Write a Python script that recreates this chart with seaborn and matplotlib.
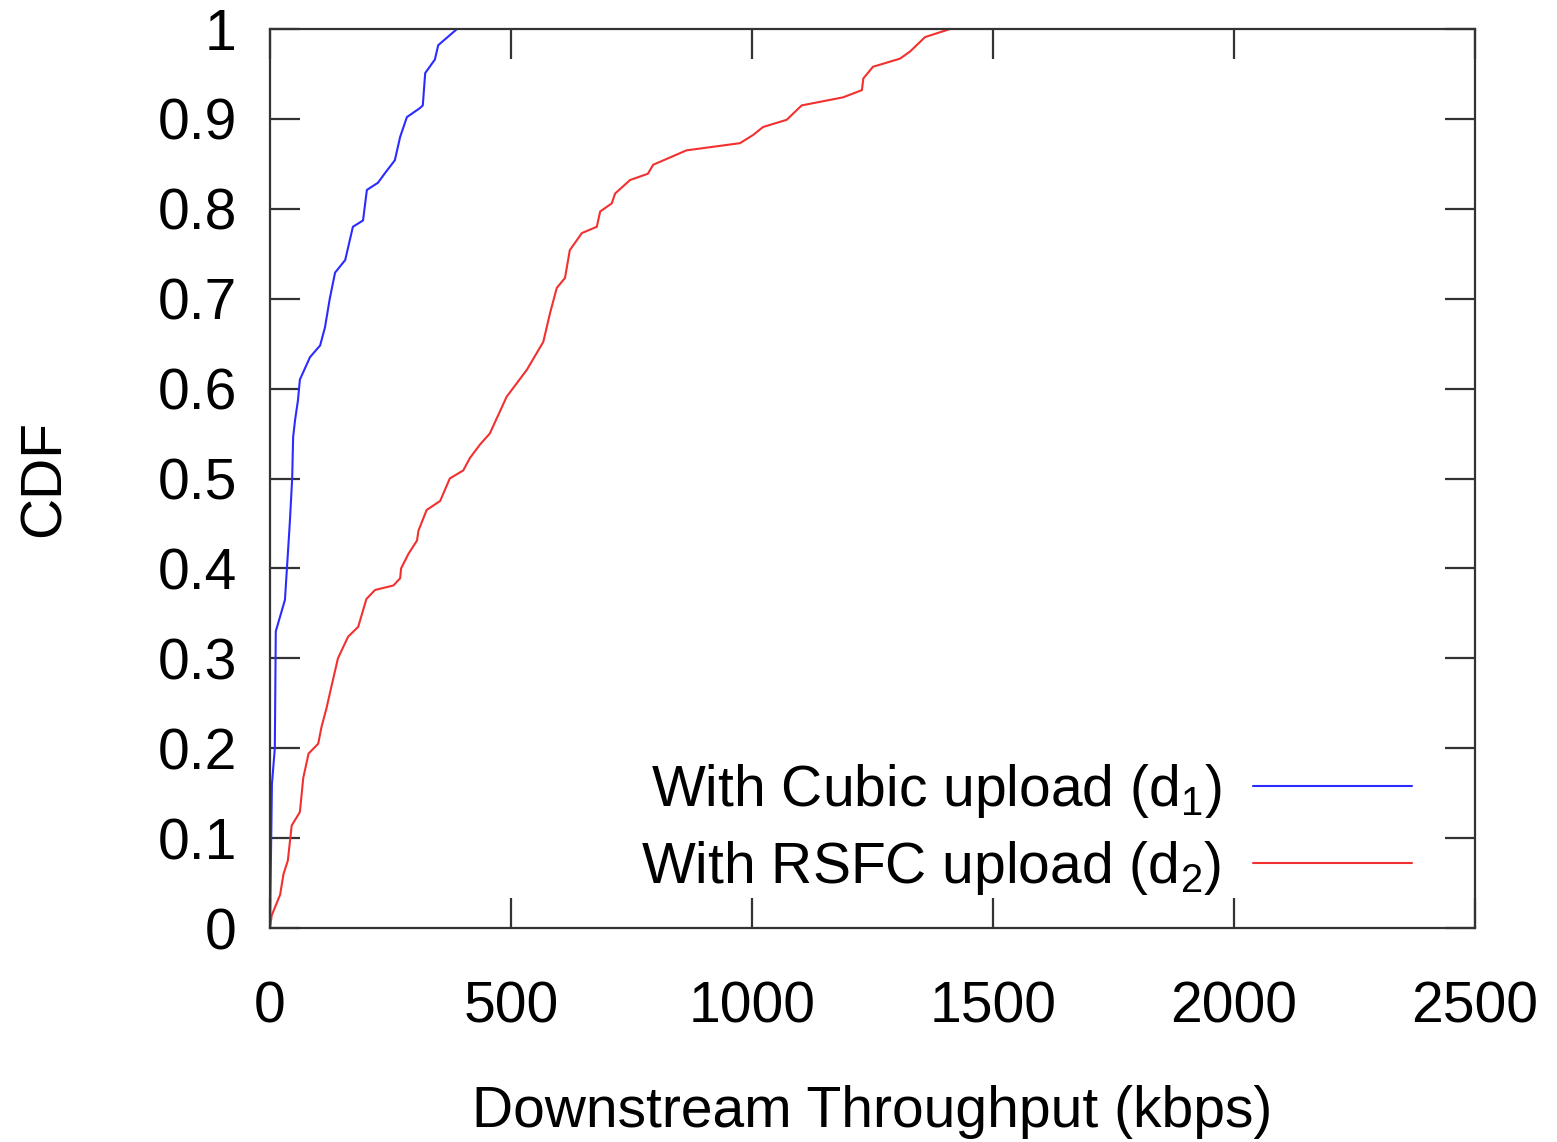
import numpy as np
import pandas as pd
import matplotlib
matplotlib.use("Agg")
import matplotlib.pyplot as plt
import seaborn as sns

# ---- data ----
cubic_kbps = [0, 4, 10, 12, 31, 41, 46, 48, 52, 58, 62, 83, 104, 114, 124, 135,
              156, 172, 193, 201, 224, 239, 259, 270, 284, 311, 317, 322, 342, 349, 388]
cubic_cdf = [0.0, 0.16, 0.20, 0.33, 0.365, 0.45, 0.50, 0.546, 0.565, 0.587, 0.61, 0.635,
             0.648, 0.668, 0.70, 0.729, 0.743, 0.78, 0.787, 0.821, 0.829, 0.84, 0.854,
             0.88, 0.902, 0.912, 0.915, 0.951, 0.966, 0.982, 1.0]

rsfc_kbps = [0, 3.5, 21, 28, 37, 45, 62, 69, 80, 100, 107, 117, 128, 141, 162, 183, 200,
             218, 256, 270, 272, 287, 305, 308, 325, 353, 373, 401, 415, 436, 456, 491,
             533, 567, 581, 595, 612, 622, 647, 678, 685, 709, 716, 747, 784, 795, 864,
             975, 1002, 1023, 1072, 1103, 1189, 1228, 1231, 1251, 1307, 1328, 1359, 1411]
rsfc_cdf = [0.0, 0.014, 0.037, 0.06, 0.075, 0.114, 0.129, 0.167, 0.194, 0.205, 0.224,
            0.244, 0.27, 0.30, 0.324, 0.335, 0.366, 0.376, 0.381, 0.389, 0.40, 0.416,
            0.431, 0.442, 0.465, 0.475, 0.50, 0.509, 0.523, 0.538, 0.55, 0.591, 0.621,
            0.652, 0.684, 0.712, 0.723, 0.754, 0.773, 0.78, 0.797, 0.806, 0.817, 0.832,
            0.839, 0.849, 0.865, 0.873, 0.882, 0.891, 0.899, 0.915, 0.924, 0.932, 0.945,
            0.958, 0.967, 0.975, 0.991, 1.0]

series_labels = ["With Cubic upload (d$_1$)", "With RSFC upload (d$_2$)"]
series_colors = ["#2b2bff", "#f23030"]
x_ticks = [0, 500, 1000, 1500, 2000, 2500]
y_ticks = [0, 0.1, 0.2, 0.3, 0.4, 0.5, 0.6, 0.7, 0.8, 0.9, 1.0]
y_tick_labels = ["0", "0.1", "0.2", "0.3", "0.4", "0.5", "0.6", "0.7", "0.8", "0.9", "1"]
x_label = "Downstream Throughput (kbps)"
y_label = "CDF"

df = pd.concat([
    pd.DataFrame({"x": cubic_kbps, "y": cubic_cdf, "series": series_labels[0]}),
    pd.DataFrame({"x": rsfc_kbps, "y": rsfc_cdf, "series": series_labels[1]}),
], ignore_index=True)

sns.set_theme(style="white")
plt.rcParams["font.family"] = ["Liberation Sans", "DejaVu Sans"]
plt.rcParams["mathtext.fontset"] = "custom"
plt.rcParams["mathtext.rm"] = "Liberation Sans"
plt.rcParams["mathtext.it"] = "Liberation Sans"
plt.rcParams["mathtext.default"] = "regular"
plt.rcParams["text.color"] = "black"
plt.rcParams["axes.labelcolor"] = "black"

fs = 41
fig = plt.figure(figsize=(15.57, 11.42), dpi=100)
ax = fig.add_axes([270 / 1557, 1 - 928 / 1142, 1205 / 1557, 899 / 1142])

sns.lineplot(data=df, x="x", y="y", hue="series", palette=series_colors,
             estimator=None, sort=False, linewidth=1.5, ax=ax)

ax.set_xlim(0, 2500)
ax.set_ylim(0, 1)
ax.set_xticks(x_ticks)
ax.set_xticklabels([str(t) for t in x_ticks])
ax.set_yticks(y_ticks)
ax.set_yticklabels(y_tick_labels)

for s in ax.spines.values():
    s.set_visible(True)
    s.set_color("#333333")
    s.set_linewidth(1.6)

ax.tick_params(axis="both", which="major", direction="in", length=21.6, width=1.6,
               color="#333333", labelsize=fs, top=True, right=True,
               bottom=True, left=True, labelcolor="black")
ax.tick_params(axis="x", pad=38)
ax.tick_params(axis="y", pad=24)

ax.set_xlabel(x_label, fontsize=fs, labelpad=36, color="black")
ax.set_ylabel(y_label, fontsize=fs, labelpad=62, color="black")

leg = ax.legend(loc="lower right", bbox_to_anchor=(0.948, 0.035), frameon=False,
                markerfirst=False, fontsize=fs, handlelength=2.8, handletextpad=0.55,
                borderpad=0, borderaxespad=0, labelspacing=0.33)
for t in leg.get_texts():
    t.set_color("black")

fig.savefig("out.png", dpi=100)
